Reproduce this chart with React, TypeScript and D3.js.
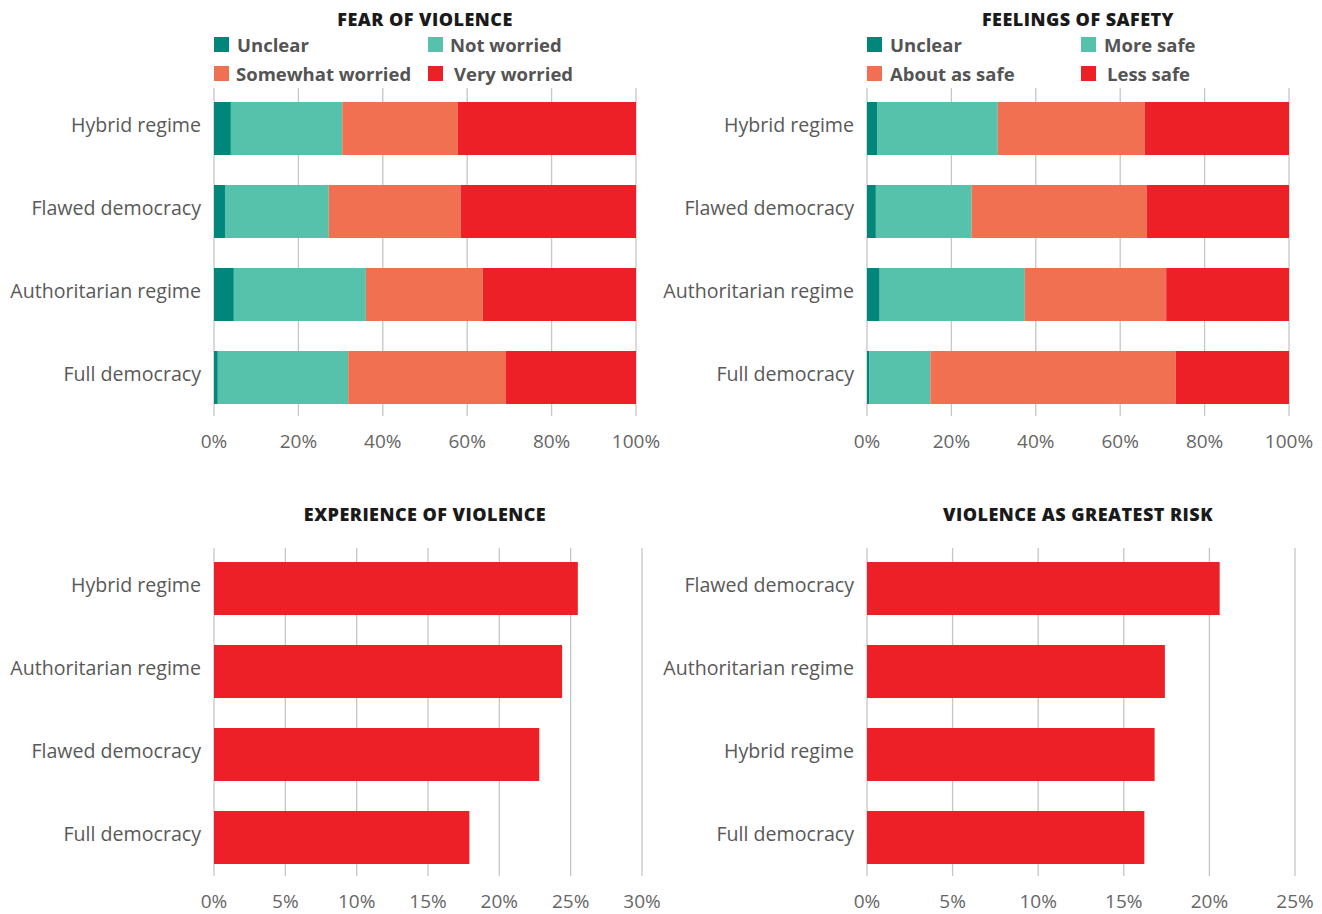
import React from "react";
import * as d3 from "d3";

const fearCategories = ["Hybrid regime", "Flawed democracy", "Authoritarian regime", "Full democracy"];
const fearKeys = ["Unclear", "Not worried", "Somewhat worried", "Very worried"];
const fearUnclear = [4.0, 2.6, 4.7, 0.9];
const fearNotWorried = [26.4, 24.6, 31.3, 30.9];
const fearSomewhat = [27.4, 31.3, 27.7, 37.4];
const fearVery = [42.2, 41.5, 36.3, 30.8];

const safetyCategories = ["Hybrid regime", "Flawed democracy", "Authoritarian regime", "Full democracy"];
const safetyKeys = ["Unclear", "More safe", "About as safe", "Less safe"];
const safetyUnclear = [2.5, 2.1, 3.0, 0.5];
const safetyMore = [28.5, 22.7, 34.4, 14.5];
const safetyAbout = [34.8, 41.5, 33.5, 58.2];
const safetyLess = [34.2, 33.7, 29.1, 26.8];

const experienceCategories = ["Hybrid regime", "Authoritarian regime", "Flawed democracy", "Full democracy"];
const experienceValues = [25.5, 24.4, 22.8, 17.9];

const riskCategories = ["Flawed democracy", "Authoritarian regime", "Hybrid regime", "Full democracy"];
const riskValues = [20.6, 17.4, 16.8, 16.2];

const pctTicks100 = [0, 20, 40, 60, 80, 100];
const pctTicks30 = [0, 5, 10, 15, 20, 25, 30];
const pctTicks25 = [0, 5, 10, 15, 20, 25];

const seriesColors = ["#00867b", "#56c2ab", "#f27052", "#ed1f27"];
const barColor = "#ed1f27";

const labelFont = "'Open Sans', 'Noto Sans', sans-serif";
const titleFont = "'Open Sans', 'Noto Sans', sans-serif";

type PanelProps = {
  title: string;
  categories: string[];
  series: number[][];
  colors: string[];
  keys?: string[];
  domainMax: number;
  ticks: number[];
  x0: number;
  x1: number;
  y0: number;
  y1: number;
  titleY: number;
  titleX: number;
  legendCols?: number[];
  legendTextDx?: number[];
};

function Panel(p: PanelProps) {
  const x = d3.scaleLinear().domain([0, p.domainMax]).range([p.x0, p.x1]);
  const y = d3
    .scaleBand<string>()
    .domain(p.categories)
    .range([p.y0, p.y1])
    .paddingInner(0.3614)
    .paddingOuter(0.1807);
  const rows = p.categories.map((c, i) => {
    const o: any = { cat: c };
    p.series.forEach((s, j) => (o["k" + j] = s[i]));
    return o;
  });
  const stack = d3.stack<any>().keys(p.series.map((_, j) => "k" + j))(rows);

  return (
    <g>
      <text
        x={p.titleX}
        y={p.titleY}
        textAnchor="middle"
        fontFamily={titleFont}
        fontWeight={800}
        fontSize={18}
        letterSpacing={0.45}
        fill="#1a1a1a"
      >
        {p.title}
      </text>
      {p.keys &&
        p.keys.map((k, i) => {
          const col = i % 2;
          const row = Math.floor(i / 2);
          const lx = p.legendCols![col];
          const ly = 37 + row * 29;
          return (
            <g key={k}>
              <rect x={lx} y={ly} width={15} height={15} fill={p.colors[i]} />
              <text
                x={lx + (p.legendTextDx ? p.legendTextDx[i] : 23)}
                y={ly + 15}
                fontFamily={labelFont}
                fontWeight={700}
                fontSize={18.5}
                letterSpacing={0}
                fill="#545454"
              >
                {k}
              </text>
            </g>
          );
        })}
      {p.ticks.map((t) => (
        <g key={t}>
          <line
            x1={x(t)}
            x2={x(t)}
            y1={p.y0 + 1}
            y2={p.y1 - 3}
            stroke="#c6c6c6"
            strokeWidth={1.3}
          />
          <text
            x={x(t)}
            y={p.y1 + 29}
            textAnchor="middle"
            fontFamily={labelFont}
            fontWeight={400}
            fontSize={19}
            fill="#666"
          >
            {t + "%"}
          </text>
        </g>
      ))}
      {stack.map((layer, j) =>
        layer.map((d: any, i: number) => (
          <rect
            key={j + "-" + i}
            x={x(d[0])}
            y={y(p.categories[i])}
            width={Math.max(0, x(d[1]) - x(d[0]))}
            height={y.bandwidth()}
            fill={p.colors[j]}
          />
        ))
      )}
      {p.categories.map((c) => (
        <text
          key={c}
          x={p.x0 - 13}
          y={(y(c) as number) + y.bandwidth() / 2 - 3}
          dy="0.35em"
          textAnchor="end"
          fontFamily={labelFont}
          fontWeight={400}
          fontSize={19.6}
          fill="#595959"
        >
          {c}
        </text>
      ))}
    </g>
  );
}

export default function App() {
  return (
    <svg
      width={1322}
      height={914}
      style={{ position: "absolute", left: 0, top: 0, background: "#fff" }}
    >
      <Panel
        title="FEAR OF VIOLENCE"
        categories={fearCategories}
        series={[fearUnclear, fearNotWorried, fearSomewhat, fearVery]}
        colors={seriesColors}
        keys={fearKeys}
        domainMax={100}
        ticks={pctTicks100}
        x0={214}
        x1={636}
        y0={87}
        y1={419}
        titleX={425}
        titleY={26}
        legendCols={[214, 428]}
        legendTextDx={[23, 22, 22, 26]}
      />
      <Panel
        title="FEELINGS OF SAFETY"
        categories={safetyCategories}
        series={[safetyUnclear, safetyMore, safetyAbout, safetyLess]}
        colors={seriesColors}
        keys={safetyKeys}
        domainMax={100}
        ticks={pctTicks100}
        x0={867}
        x1={1289}
        y0={87}
        y1={419}
        titleX={1078}
        titleY={26}
        legendCols={[867, 1081]}
        legendTextDx={[23, 23, 23, 26]}
      />
      <Panel
        title="EXPERIENCE OF VIOLENCE"
        categories={experienceCategories}
        series={[experienceValues]}
        colors={[barColor]}
        domainMax={30}
        ticks={pctTicks30}
        x0={214}
        x1={642}
        y0={547}
        y1={879}
        titleX={425}
        titleY={521}
      />
      <Panel
        title="VIOLENCE AS GREATEST RISK"
        categories={riskCategories}
        series={[riskValues]}
        colors={[barColor]}
        domainMax={25}
        ticks={pctTicks25}
        x0={867}
        x1={1295}
        y0={547}
        y1={879}
        titleX={1078}
        titleY={521}
      />
    </svg>
  );
}
